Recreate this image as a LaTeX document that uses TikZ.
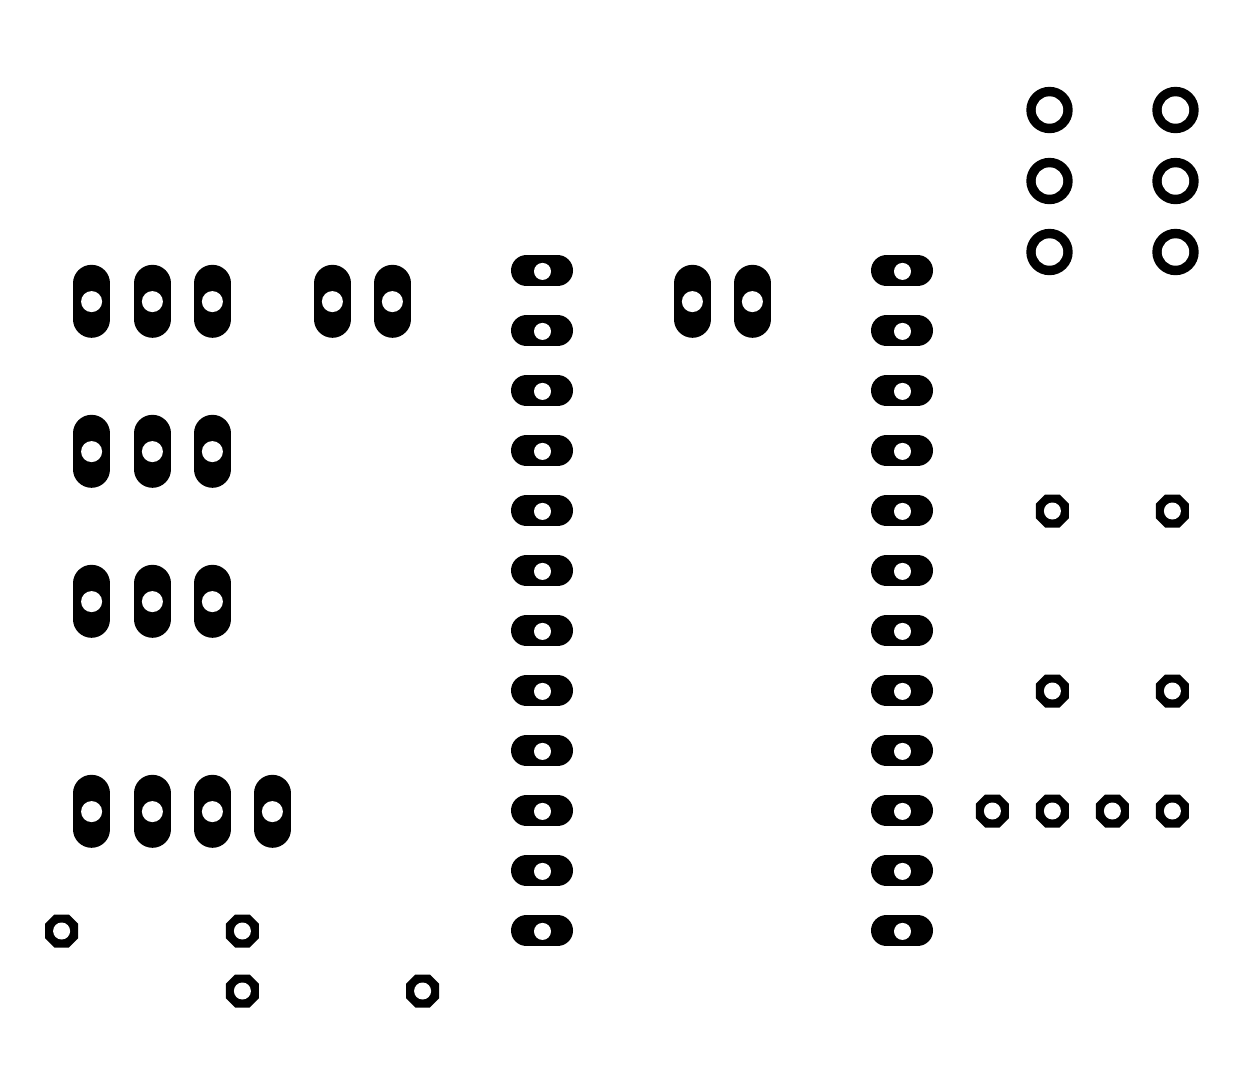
\documentclass[tikz,border=0pt]{standalone}
\tikzset{
  padblack/.style={fill=black,draw=none},
  padhole/.style={fill=white,draw=none},
  vpad/.pic={
    \draw[line width=37pt,line cap=round] (0,-18) -- (0,18);
    \fill[padhole] (0,0.3) circle (10.5);
  },
  hpad/.pic={
    \draw[line width=31pt,line cap=round] (-15.5,-0.4) -- (15.5,-0.4);
    \fill[padhole] (0.5,0.4) circle (8.5);
  },
  ringpad/.pic={
    \fill[padblack] (0,0) circle (23.2);
    \fill[padhole] (0,0) circle (13.7);
  },
  octpad/.pic={
    \fill[padblack] (7.3,-16.5) -- (16.5,-7.3) -- (16.5,7.3) -- (7.3,16.5)
      -- (-7.3,16.5) -- (-16.5,7.3) -- (-16.5,-7.3) -- (-7.3,-16.5) -- cycle;
    \fill[padhole] (0,0) circle (8.5);
  }
}
\begin{document}
\begin{tikzpicture}[x=1pt,y=-1pt]
\useasboundingbox (0,0) rectangle (1255,1082);
\fill[white] (0,0) rectangle (1255,1082);
% vertical pads
\foreach \x/\y in {91.6/301.3,152.4/301.3,212.4/301.3,332.4/301.3,392.4/301.3,692.4/301.3,752.4/301.3,
                   91.6/451.3,152.4/451.3,212.4/451.3,
                   91.6/601.3,152.4/601.3,212.4/601.3,
                   91.6/811.3,152.4/811.3,212.4/811.3,272.4/811.3}
  \pic at (\x,\y) {vpad};
% horizontal pads
\foreach \x in {542,902}
  \foreach \y in {271,331,...,931}
    \pic at (\x,\y) {hpad};
% rings
\foreach \x in {1049.5,1175.5}
  \foreach \y in {110,181,252}
    \pic at (\x,\y) {ringpad};
% octagons
\foreach \x/\y in {1052.4/511,1172.4/511,1052.4/691,1172.4/691,
                   992.4/811,1052.4/811,1112.4/811,1172.4/811,
                   61.6/931,242.4/931,242.4/991,422.6/991}
  \pic at (\x,\y) {octpad};
\end{tikzpicture}
\end{document}
